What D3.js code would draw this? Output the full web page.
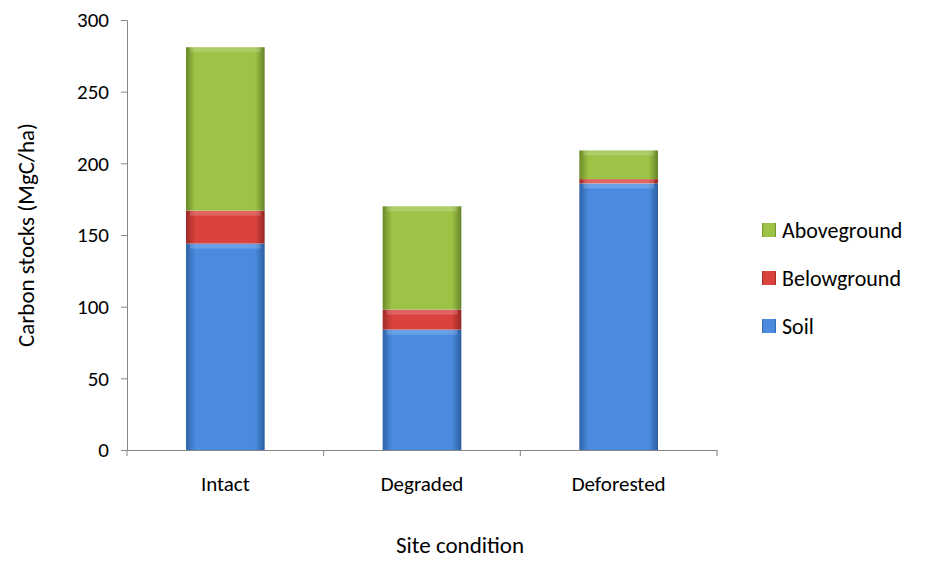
<!DOCTYPE html>
<html>
<head>
<meta charset="utf-8">
<script src="https://cdn.jsdelivr.net/npm/d3@7"></script>
<style>
  body { margin: 0; background: #fff; }
  text { font-family: Calibri, Carlito, "Open Sans", sans-serif; fill: #000; }
</style>
</head>
<body>
<svg id="chart" width="934" height="561"></svg>
<script>
const categories = ["Intact", "Degraded", "Deforested"];
const seriesNames = ["Soil", "Belowground", "Aboveground"];
const soil = [144, 84, 186];
const belowground = [23, 14, 3];
const aboveground = [114, 72, 20];
const yTicks = [0, 50, 100, 150, 200, 250, 300];

const colors = {
  Soil: ["#2e63a8", "#4a8be0", "#2a5d9f"],
  Belowground: ["#9e2a27", "#d9423d", "#962724"],
  Aboveground: ["#6b8a27", "#9dc346", "#66842a"]
};

const svg = d3.select("#chart");
const margin = { top: 20, left: 127, right: 217, bottom: 111 };
const width = 934 - margin.left - margin.right;
const height = 561 - margin.top - margin.bottom;

// gradients for the bevelled Excel look
const defs = svg.append("defs");
seriesNames.forEach((s) => {
  const g = defs.append("linearGradient").attr("id", "g-" + s)
    .attr("x1", "0").attr("x2", "1").attr("y1", "0").attr("y2", "0");
  g.append("stop").attr("offset", "0").attr("stop-color", colors[s][0]);
  g.append("stop").attr("offset", "0.12").attr("stop-color", colors[s][1]);
  g.append("stop").attr("offset", "0.88").attr("stop-color", colors[s][1]);
  g.append("stop").attr("offset", "1").attr("stop-color", colors[s][2]);
});

const rows = categories.map((c, i) => ({
  cat: c, Soil: soil[i], Belowground: belowground[i], Aboveground: aboveground[i]
}));
const stacked = d3.stack().keys(seriesNames)(rows);

const x = d3.scaleBand().domain(categories).range([0, width])
  .paddingInner(0.6).paddingOuter(0.3);
const y = d3.scaleLinear().domain([0, 300]).range([height, 0]);

const g = svg.append("g").attr("transform", `translate(${margin.left},${margin.top})`);

// Y axis
const yAxis = g.append("g")
  .call(d3.axisLeft(y).tickValues(yTicks).tickSize(6).tickPadding(12));
yAxis.select(".domain").attr("stroke", "#868686");
yAxis.selectAll(".tick line").attr("stroke", "#868686");
yAxis.selectAll("text").style("font-size", "21px");

// X axis
const xAxis = g.append("g").attr("transform", `translate(0,${height})`)
  .call(d3.axisBottom(x).tickSize(0).tickPadding(26));
xAxis.select(".domain").attr("stroke", "#868686");
xAxis.selectAll("text").style("font-size", "21px");
// category separator ticks
const step = x.step();
g.append("g").selectAll("line")
  .data(d3.range(categories.length + 1))
  .join("line")
  .attr("x1", (d) => d * step).attr("x2", (d) => d * step)
  .attr("y1", height).attr("y2", height + 6)
  .attr("stroke", "#868686");

// Bars
g.selectAll(".layer")
  .data(stacked)
  .join("g")
  .attr("class", "layer")
  .attr("fill", (d) => `url(#g-${d.key})`)
  .selectAll("rect")
  .data((d) => d)
  .join("rect")
  .attr("x", (d) => x(d.data.cat))
  .attr("width", x.bandwidth())
  .attr("y", (d) => y(d[1]))
  .attr("height", (d) => y(d[0]) - y(d[1]));

// top highlight strip per segment
g.selectAll(".hl")
  .data(stacked)
  .join("g")
  .attr("class", "hl")
  .selectAll("rect")
  .data((d) => d.map((v) => ({ v, key: d.key })))
  .join("rect")
  .attr("x", (d) => x(d.v.data.cat) + 4)
  .attr("width", x.bandwidth() - 8)
  .attr("y", (d) => y(d.v[1]))
  .attr("height", 5)
  .attr("fill", "#fff")
  .attr("opacity", 0.18);

// Axis titles
svg.append("text")
  .attr("transform", `translate(34,${margin.top + height / 2}) rotate(-90)`)
  .attr("text-anchor", "middle")
  .style("font-size", "23px")
  .text("Carbon stocks (MgC/ha)");
svg.append("text")
  .attr("x", 460).attr("y", 553)
  .attr("text-anchor", "middle")
  .style("font-size", "23px")
  .text("Site condition");

// Legend
const legend = svg.append("g").attr("transform", "translate(762,230)");
seriesNames.slice().reverse().forEach((s, i) => {
  const row = legend.append("g").attr("transform", `translate(0,${i * 48})`);
  row.append("rect").attr("x", 0).attr("y", -7).attr("width", 14).attr("height", 14)
    .attr("fill", `url(#g-${s})`);
  row.append("text").attr("x", 20).attr("y", 0).attr("dy", "0.35em")
    .style("font-size", "22px").text(s);
});
</script>
</body>
</html>
